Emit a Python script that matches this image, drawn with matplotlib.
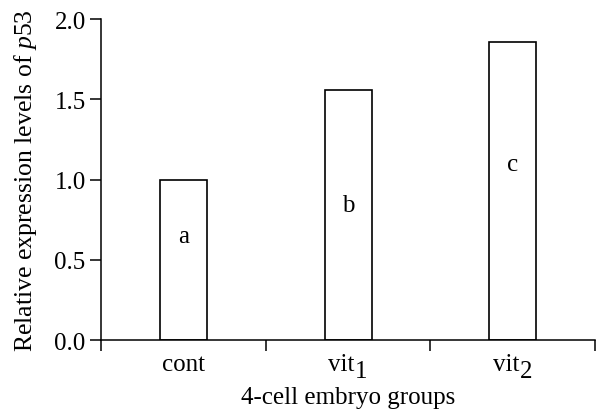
import matplotlib
matplotlib.use('Agg')
import matplotlib.pyplot as plt

plt.rcParams['font.family'] = 'Liberation Serif'
plt.rcParams['mathtext.fontset'] = 'custom'
plt.rcParams['mathtext.rm'] = 'Liberation Serif'
plt.rcParams['mathtext.it'] = 'Liberation Serif:italic'

# Daten
groups = ['cont', 'vit', 'vit']
group_subs = ['', '1', '2']
values = [1.0, 1.56, 1.86]
letters = ['a', 'b', 'c']
letter_y = [0.65, 0.84, 1.10]

fs = 18

fig = plt.figure(figsize=(5.96, 4.10), dpi=100)
ax = fig.add_axes([0.1695, 0.168, 0.829, 0.783])

pos = [i + 0.5 for i in range(len(groups))]
ax.bar(pos, values, width=0.285, facecolor='white', edgecolor='black', linewidth=1.2)
for x, y, t in zip(pos, letter_y, letters):
    ax.text(x, y, t, ha='center', va='center', fontsize=fs)

ax.set_xlim(0, 3)
ax.set_ylim(0, 2.0)
ax.set_yticks([0, 0.5, 1.0, 1.5, 2.0])
ax.set_yticklabels(['0.0', '0.5', '1.0', '1.5', '2.0'], fontsize=fs)
ax.set_xticks([0, 1, 2, 3])
ax.set_xticklabels([])
ax.tick_params(axis='both', which='major', length=8, width=1.1, direction='out', pad=3)

# Gruppennamen mit großem Index
trans = ax.get_xaxis_transform()
for x, name, sub in zip(pos, groups, group_subs):
    shift = -5 if sub else 0
    t = ax.annotate(name, xy=(x, 0), xycoords=trans, xytext=(shift, -9),
                    textcoords='offset points', ha='center', va='top', fontsize=fs)
    if sub:
        ax.annotate(sub, xy=(1, 0), xycoords=t, xytext=(0.5, -5),
                    textcoords='offset points', ha='left', va='bottom', fontsize=fs)

for s in ['top', 'right']:
    ax.spines[s].set_visible(False)
for s in ['left', 'bottom']:
    ax.spines[s].set_linewidth(1.1)

ax.set_xlabel('4-cell embryo groups', fontsize=fs, labelpad=22)
ax.set_ylabel('Relative expression levels of $\\mathit{p53}$', fontsize=18.5, labelpad=11)

plt.savefig('out.png', dpi=100, facecolor='white')
